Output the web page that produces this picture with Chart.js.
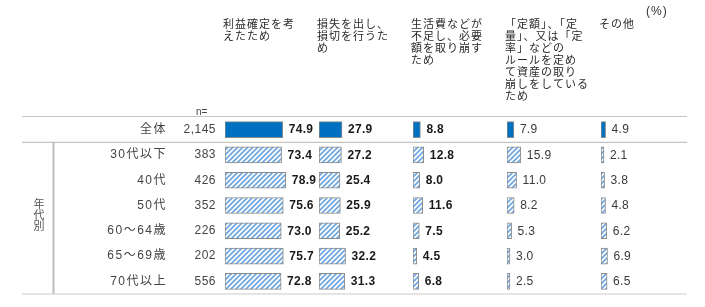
<!DOCTYPE html>
<html><head><meta charset="utf-8">
<script src="https://cdn.jsdelivr.net/npm/chart.js@4"></script>
<style>html,body{margin:0;padding:0;background:#fff}#wrap{width:705px;height:307px}</style>
</head><body><div id="wrap"><canvas id="c" width="705" height="307"></canvas></div>
<script>
const categories = ['全体','30代以下','40代','50代','60～64歳','65～69歳','70代以上'];
const sampleSizes = ['2,145','383','426','352','226','202','556'];
const profitTaking = [74.9,73.4,78.9,75.6,73.0,75.7,72.8];
const lossCutting = [27.9,27.2,25.4,25.9,25.2,32.2,31.3];
const livingCosts = [8.8,12.8,8.0,11.6,7.5,4.5,6.8];
const ruleBased = [7.9,15.9,11.0,8.2,5.3,3.0,2.5];
const otherReason = [4.9,2.1,3.8,4.8,6.2,6.9,6.5];
const headers = [
  ['利益確定を考','えたため'],
  ['損失を出し、','損切を行うた','め'],
  ['生活費などが','不足し、必要','額を取り崩す','ため'],
  ['「定額」、「定','量」、又は「定','率」などの','ルールを定め','て資産の取り','崩しをしている','ため'],
  ['その他']
];
const groupLabel = ['年','代','別'];
const series = [profitTaking, lossCutting, livingCosts, ruleBased, otherReason];
const panelMax = [122, 114, 112, 108, 100];

const FONT = '"Liberation Sans", "Noto Sans CJK JP", sans-serif';

function makeHatch(){
  const s = 5;
  const t = document.createElement('canvas');
  t.width = s; t.height = s;
  const g = t.getContext('2d');
  g.fillStyle = '#ffffff'; g.fillRect(0,0,s,s);
  g.strokeStyle = '#74a9e0'; g.lineWidth = 1.9;
  g.beginPath();
  g.moveTo(-1, s+1); g.lineTo(s+1, -1);
  g.moveTo(-1, 1); g.lineTo(1, -1);
  g.moveTo(s-1, s+1); g.lineTo(s+1, s-1);
  g.stroke();
  return document.getElementById('c').getContext('2d').createPattern(t, 'repeat');
}
const hatch = makeHatch();
const fills = categories.map((_, i) => i === 0 ? '#0070c0' : hatch);

const datasets = series.map((arr, k) => ({
  data: arr,
  xAxisID: 'x' + k,
  yAxisID: 'y',
  grouped: false,
  backgroundColor: fills,
  borderColor: '#8a8a8a',
  borderWidth: 1,
  borderSkipped: false,
  barThickness: 16,
  minBarLength: 3
}));

const scales = { y: { type: 'category', display: false, offset: true } };
series.forEach((_, k) => {
  scales['x' + k] = { type: 'linear', position: 'bottom', stack: 'panels', stackWeight: 1,
    min: 0, max: panelMax[k], display: false };
});

function txt(ctx, s, x, y, align, font, color, spacing){
  ctx.save();
  ctx.font = font; ctx.fillStyle = color; ctx.textAlign = align; ctx.textBaseline = 'middle';
  ctx.letterSpacing = spacing || '0px';
  ctx.fillText(s, x, y);
  ctx.restore();
}

const tablePlugin = {
  id: 'tablePlugin',
  afterDraw(chart){
    const ctx = chart.ctx;
    const y = chart.scales.y;
    const rowY = i => y.getPixelForValue(i);
    ctx.save();
    ctx.strokeStyle = '#c4c4c4'; ctx.lineWidth = 1.2;
    ctx.beginPath(); ctx.moveTo(22, 116.5); ctx.lineTo(687, 116.5); ctx.stroke();
    const sep = (rowY(0) + rowY(1)) / 2;
    ctx.beginPath(); ctx.moveTo(22, sep); ctx.lineTo(687, sep); ctx.stroke();
    ctx.strokeStyle = '#dcdcdc'; ctx.lineWidth = 1.5;
    ctx.beginPath(); ctx.moveTo(22, 294); ctx.lineTo(687, 294); ctx.stroke();
    ctx.strokeStyle = '#bdbdbd'; ctx.lineWidth = 2;
    ctx.beginPath(); ctx.moveTo(53.5, sep); ctx.lineTo(53.5, 294); ctx.stroke();
    ctx.restore();
    groupLabel.forEach((ch, i) => txt(ctx, ch, 39, 205 + i * 11, 'center', '11px ' + FONT, '#555'));
    txt(ctx, 'n=', 196, 112, 'left', '10px ' + FONT, '#444');
    txt(ctx, '(%)', 646, 12, 'left', '12px ' + FONT, '#333', '1px');
    categories.forEach((c, i) => {
      txt(ctx, c, 167, rowY(i), 'right', '12px ' + FONT, '#444', '1.5px');
      txt(ctx, sampleSizes[i], 216, rowY(i), 'right', '12px ' + FONT, '#444', '0.5px');
    });
    headers.forEach((lines, k) => {
      const sc = chart.scales['x' + k];
      lines.forEach((ln, j) => txt(ctx, ln, sc.left - 2, 25 + j * 12, 'left', '11px ' + FONT, '#2a2a2a', '1px'));
    });
    series.forEach((arr, k) => {
      const meta = chart.getDatasetMeta(k);
      meta.data.forEach((bar, i) => {
        const font = (k < 3 ? 'bold ' : '') + '12px ' + FONT;
        const color = k < 3 ? '#1a1a1a' : '#3a3a3a';
        txt(ctx, arr[i].toFixed(1), bar.x + 6, bar.y + 0.5, 'left', font, color, '0.3px');
      });
    });
  }
};

new Chart(document.getElementById('c'), {
  type: 'bar',
  data: { labels: categories, datasets },
  options: {
    indexAxis: 'y',
    responsive: false,
    animation: false,
    layout: { padding: { left: 225, right: 10, top: 117, bottom: 13 } },
    scales,
    plugins: { legend: { display: false }, tooltip: { enabled: false } }
  },
  plugins: [tablePlugin]
});
</script>
</body></html>
